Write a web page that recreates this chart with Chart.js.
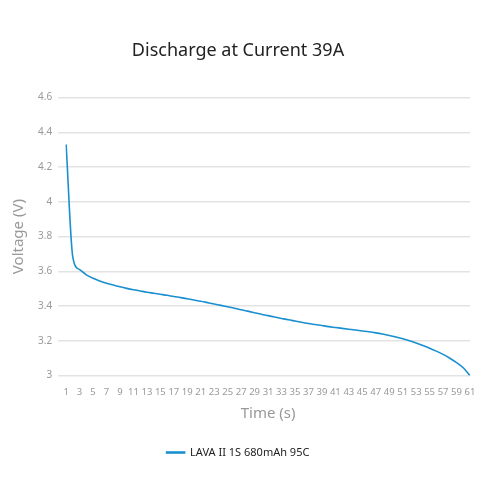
<!DOCTYPE html>
<html>
<head>
<meta charset="utf-8">
<script src="https://cdn.jsdelivr.net/npm/chart.js@4"></script>
<style>
  html, body { margin: 0; padding: 0; background: #fff; }
  #wrap { width: 480px; height: 480px; }
</style>
</head>
<body>
<div id="wrap"><canvas id="chart"></canvas></div>
<script>
// time in seconds (category labels)
const timeLabels = [];
for (let i = 1; i <= 61; i++) timeLabels.push(String(i));

// voltage readings
const voltage = [
  4.33, 3.68, 3.61, 3.58, 3.56, 3.545, 3.532, 3.521, 3.511, 3.502,
  3.494, 3.487, 3.480, 3.474, 3.468, 3.462, 3.455, 3.449, 3.442, 3.435,
  3.428, 3.420, 3.412, 3.404, 3.396, 3.388, 3.379, 3.371, 3.362, 3.353,
  3.345, 3.337, 3.329, 3.321, 3.314, 3.307, 3.300, 3.294, 3.288, 3.282,
  3.277, 3.272, 3.267, 3.262, 3.257, 3.252, 3.246, 3.239, 3.231, 3.222,
  3.212, 3.200, 3.187, 3.173, 3.158, 3.141, 3.122, 3.100, 3.075, 3.045,
  3.0
];

const seriesName = "LAVA II 1S 680mAh 95C";

new Chart(document.getElementById("chart"), {
  type: "line",
  data: {
    labels: timeLabels,
    datasets: [{
      label: seriesName,
      data: voltage,
      borderColor: "#1a8fd0",
      backgroundColor: "#1a8fd0",
      borderWidth: 1.6,
      pointRadius: 0,
      cubicInterpolationMode: "monotone",
      fill: false
    }]
  },
  options: {
    responsive: true,
    maintainAspectRatio: false,
    animation: false,
    layout: { padding: { left: 6, right: 10, top: 40, bottom: 12 } },
    plugins: {
      title: {
        display: true,
        text: "Discharge at Current 39A",
        color: "#222",
        font: { family: "Noto Sans", size: 18, weight: "normal" },
        padding: { bottom: 36 }
      },
      legend: {
        position: "bottom",
        labels: {
          color: "#222",
          font: { family: "Noto Sans", size: 11 },
          boxWidth: 18,
          boxHeight: 1,
          padding: 20
        }
      }
    },
    scales: {
      x: {
        grid: { display: false },
        border: { display: false },
        ticks: {
          color: "#999",
          font: { family: "Noto Sans", size: 9.5 },
          maxRotation: 0,
          autoSkip: false,
          callback: function (v, i) { return i % 2 === 0 ? this.getLabelForValue(v) : ""; }
        },
        title: {
          display: true,
          text: "Time (s)",
          color: "#999",
          font: { family: "Noto Sans", size: 15 }
        }
      },
      y: {
        min: 3,
        max: 4.6,
        grid: { color: "#e3e3e3", lineWidth: 1.5 },
        border: { display: false },
        ticks: {
          stepSize: 0.2,
          color: "#999",
          font: { family: "Noto Sans", size: 10 },
          padding: 6,
          callback: v => String(Math.round(v * 10) / 10)
        },
        title: {
          display: true,
          text: "Voltage (V)",
          color: "#999",
          font: { family: "Noto Sans", size: 15 }
        }
      }
    }
  }
});
</script>
</body>
</html>
